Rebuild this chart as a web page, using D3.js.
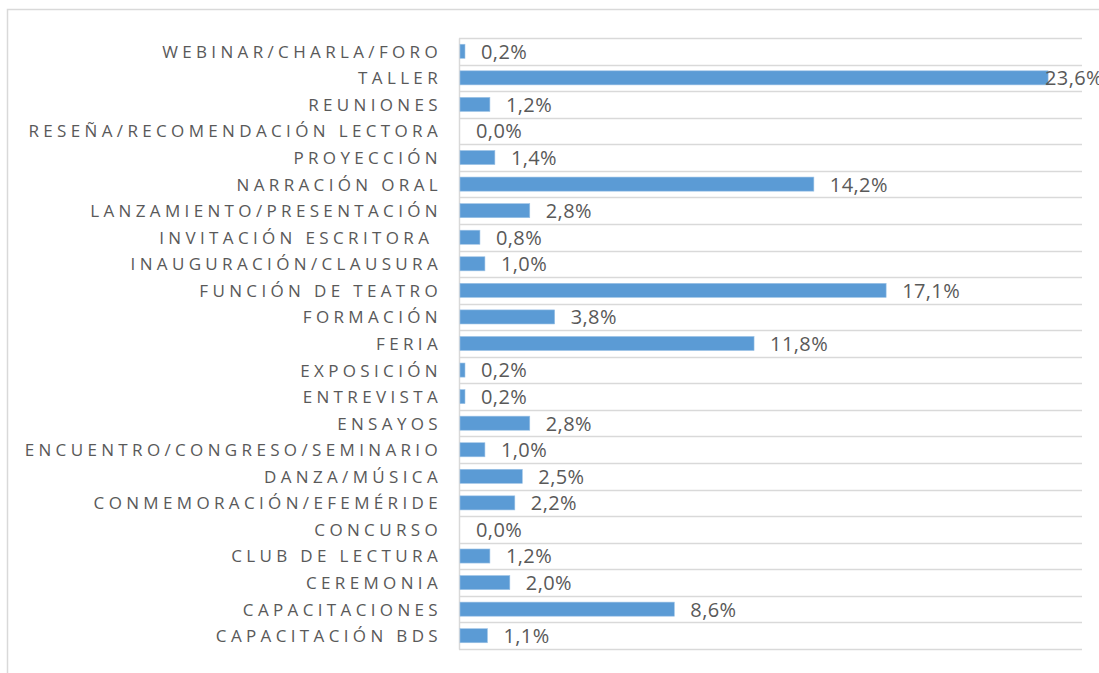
<!DOCTYPE html>
<html>
<head>
<meta charset="utf-8">
<script src="https://cdn.jsdelivr.net/npm/d3@7.9.0/dist/d3.min.js"></script>
<style>
  html, body { margin: 0; padding: 0; background: #fff; overflow: hidden; }
  svg { display: block; }
</style>
</head>
<body>
<div id="chart"></div>
<script>
// categories, top to bottom as in the chart
var categories = [
    'WEBINAR/CHARLA/FORO',
    'TALLER',
    'REUNIONES',
    'RESEÑA/RECOMENDACIÓN LECTORA',
    'PROYECCIÓN',
    'NARRACIÓN ORAL',
    'LANZAMIENTO/PRESENTACIÓN',
    'INVITACIÓN ESCRITORA ',
    'INAUGURACIÓN/CLAUSURA',
    'FUNCIÓN DE TEATRO',
    'FORMACIÓN',
    'FERIA',
    'EXPOSICIÓN',
    'ENTREVISTA',
    'ENSAYOS',
    'ENCUENTRO/CONGRESO/SEMINARIO',
    'DANZA/MÚSICA',
    'CONMEMORACIÓN/EFEMÉRIDE',
    'CONCURSO',
    'CLUB DE LECTURA',
    'CEREMONIA',
    'CAPACITACIONES',
    'CAPACITACIÓN BDS'
]
// percent values
var values = [0.2, 23.6, 1.2, 0.0, 1.4, 14.2, 2.8, 0.8, 1.0, 17.1, 3.8, 11.8, 0.2, 0.2, 2.8, 1.0, 2.5, 2.2, 0.0, 1.2, 2.0, 8.6, 1.1]
var xDomain = [0, 25]

var W = 1099, H = 673
var plot = { left: 459, right: 1082, top: 38, bottom: 649 }

var data = categories.map(function (c, i) { return { cat: c, value: values[i] } })

var svg = d3.select('#chart').append('svg')
    .attr('width', W)
    .attr('height', H)

// chart frame (runs off the right and bottom edges, as in the source)
svg.append('rect')
    .attr('x', 7.5).attr('y', 9.5)
    .attr('width', 1200).attr('height', 900)
    .attr('fill', '#fff')
    .attr('stroke', '#d9d9d9')
    .attr('stroke-width', 1.5)

var x = d3.scaleLinear().domain(xDomain).range([plot.left, plot.right])
var y = d3.scaleBand().domain(categories).range([plot.top, plot.bottom]).paddingInner(0.47).paddingOuter(0.235)
var yGrid = d3.scaleBand().domain(categories).range([plot.top, plot.bottom])

// horizontal gridlines at category boundaries
var bounds = categories.map(function (c) { return yGrid(c) }).concat([plot.bottom])
svg.append('g').selectAll('line')
    .data(bounds)
    .join('line')
    .attr('x1', plot.left).attr('x2', plot.right)
    .attr('y1', function (d) { return Math.round(d) + 0.5 })
    .attr('y2', function (d) { return Math.round(d) + 0.5 })
    .attr('stroke', '#d9d9d9')
    .attr('stroke-width', 1.5)

// category axis
var yAxis = svg.append('g')
    .attr('transform', 'translate(' + plot.left + ',0)')
    .call(d3.axisLeft(yGrid).tickSize(0).tickPadding(17))
yAxis.select('.domain').attr('stroke', '#d9d9d9').attr('stroke-width', 1.5)
yAxis.selectAll('text')
    .attr('fill', '#595959')
    .attr('font-family', '"Open Sans", sans-serif')
    .attr('font-size', 17)
    .attr('dy', '0.38em')
    .style('letter-spacing', '4.35px')
    .style('white-space', 'pre')

// bars
svg.append('g').selectAll('rect')
    .data(data)
    .join('rect')
    .attr('x', x(0) + 1)
    .attr('y', function (d) { return y(d.cat) })
    .attr('width', function (d) { return Math.max(0, x(d.value) - x(0)) })
    .attr('height', y.bandwidth())
    .attr('fill', '#5b9bd5')
    .attr('stroke', '#9dc3e6')
    .attr('stroke-width', 0.6)

// value labels (the widest one is pulled back, as Excel does)
svg.append('g').selectAll('text')
    .data(data)
    .join('text')
    .attr('x', function (d) { return Math.min(x(d.value) + 17, plot.right - 37) })
    .attr('y', function (d) { return y(d.cat) + y.bandwidth() / 2 })
    .attr('dy', '0.37em')
    .attr('fill', '#595959')
    .attr('font-family', '"Open Sans", sans-serif')
    .attr('font-size', 20)
    .style('letter-spacing', '0.4px')
    .text(function (d) { return d.value.toFixed(1).replace('.', ',') + '%' })
</script>
</body>
</html>
